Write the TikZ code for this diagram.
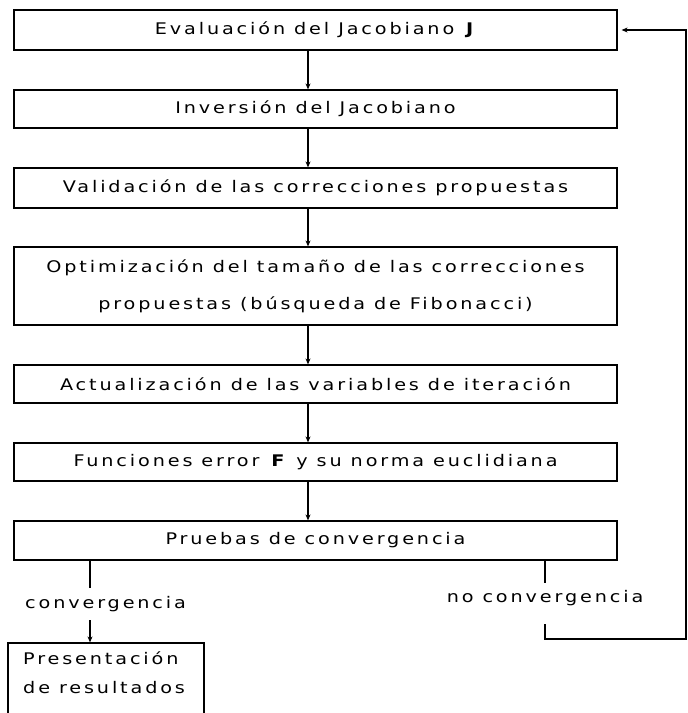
\documentclass[tikz,border=0pt]{standalone}
\usepackage{fontspec}
\setmainfont{DejaVu Sans}[LetterSpace=18,FakeStretch=1.2]
\usetikzlibrary{arrows.meta}
\begin{document}
\begin{tikzpicture}[x=1pt,y=-1pt,
  every node/.style={font=\fontsize{16}{18}\selectfont, inner sep=0pt},
  box/.style={draw, line width=1.2pt, minimum width=603pt, minimum height=40pt},
  flow/.style={line width=1.2pt, -{Stealth[length=6pt,width=5pt]}},
  ln/.style={line width=1.2pt}]
\useasboundingbox (0,0) rectangle (688,713);
\node[box] (b1) at (315.5,30) {Evaluación del Jacobiano \textbf{J}};
\node[box, minimum height=38pt] (b2) at (315.5,109) {Inversión del Jacobiano};
\node[box] (b3) at (315.5,188) {Validación de las correcciones propuestas};
\node[box, minimum height=78pt, align=center] (b4) at (315.5,286) {Optimización del tamaño de las correcciones\\[19pt]propuestas (búsqueda de Fibonacci)};
\node[box, minimum height=38pt] (b5) at (315.5,384) {Actualización de las variables de iteración};
\node[box, minimum height=38pt] (b6) at (315.5,462) {Funciones error \textbf{F} y su norma euclidiana};
\node[box, minimum height=39pt] (b7) at (315.5,540.5) {Pruebas de convergencia};
\coordinate (ca) at (308,0);
\coordinate (cl) at (90,0);
\coordinate (cr) at (545,0);
\node[anchor=west] (conv) at (25,604) {convergencia};
\node (nconv) at (545,598) {no convergencia};
\coordinate (c1) at (90,588);
\coordinate (c2) at (90,620);
\node[draw, line width=1.2pt, minimum width=196pt, minimum height=84pt] (b8) at (106,685) {};
\node[anchor=west] (p1) at (23,658) {Presentación};
\node[anchor=west] (p2) at (23,688) {de resultados};
\coordinate (n1) at (545,583);
\coordinate (n2) at (545,624);
\coordinate (rb) at (686,639);
\draw[flow] (b1.south -| ca) -- (b2.north -| ca);
\draw[flow] (b2.south -| ca) -- (b3.north -| ca);
\draw[flow] (b3.south -| ca) -- (b4.north -| ca);
\draw[flow] (b4.south -| ca) -- (b5.north -| ca);
\draw[flow] (b5.south -| ca) -- (b6.north -| ca);
\draw[flow] (b6.south -| ca) -- (b7.north -| ca);
\draw[ln] (b7.south -| cl) -- (c1);
\draw[flow] (c2) -- (b8.north -| cl);
\draw[ln] (b7.south -| cr) -- (n1);
\draw[flow] (n2) |- (rb) |- ([xshift=4pt]b1.east);
\end{tikzpicture}
\end{document}
